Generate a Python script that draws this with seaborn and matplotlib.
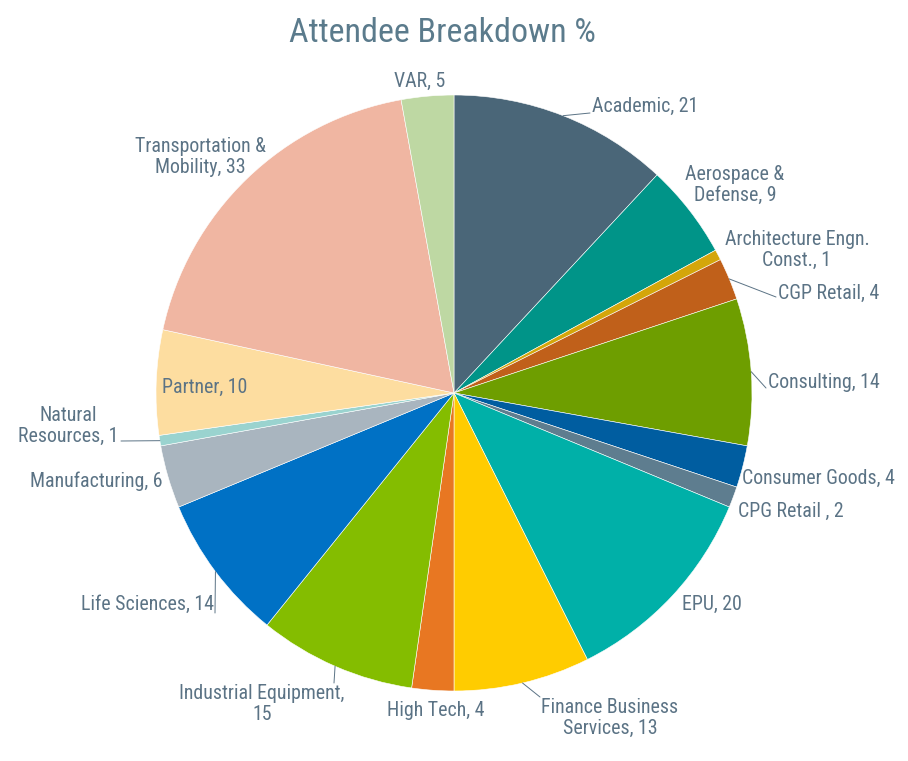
import numpy as np
import seaborn as sns
import matplotlib.pyplot as plt
from matplotlib import font_manager

# Attendee counts by industry (clockwise from 12 o'clock)
industries = ['Academic', 'Aerospace &\nDefense', 'Architecture Engn.\nConst.', 'CGP Retail',
              'Consulting', 'Consumer Goods', 'CPG Retail ', 'EPU', 'Finance Business\nServices',
              'High Tech', 'Industrial Equipment,\n', 'Life Sciences', 'Manufacturing',
              'Natural\nResources', 'Partner', 'Transportation &\nMobility', 'VAR']
attendees = [21, 9, 1, 4, 14, 4, 2, 20, 13, 4, 15, 14, 6, 1, 10, 33, 5]
slice_colors = ['#4A6678', '#009488', '#D4A60A', '#C0601A', '#6E9E00', '#005DA0', '#5E7D8F',
                '#00B0A8', '#FFCC00', '#E87722', '#84BD00', '#0071C5', '#A9B5BF', '#9AD3CF',
                '#FDDDA0', '#F0B6A2', '#BED8A3']

sns.set_theme(style='white')
installed = {f.name for f in font_manager.fontManager.ttflist}
family = [f for f in ['Liberation Sans Narrow', 'Roboto Condensed', 'Liberation Sans', 'DejaVu Sans'] if f in installed]
plt.rcParams['font.family'] = family

text_col = '#5B7385'
W, H = 908, 761
cx, cy, R = 454, H - 393, 298

fig = plt.figure(figsize=(W / 100, H / 100), dpi=100)
ax = fig.add_axes([0, 0, 1, 1])

palette = sns.color_palette(slice_colors)
wedges, _ = ax.pie(attendees, colors=palette, startangle=90, counterclock=False,
                   center=(cx, cy), radius=R, frame=True,
                   wedgeprops={'edgecolor': 'white', 'linewidth': 0.4})
ax.set_xlim(0, W)
ax.set_ylim(0, H)
ax.set_aspect('equal')
ax.axis('off')

# label layout: (x, y from top, ha, leader end point or None)
layout = [
    (592, 106, 'left', (590, 113)),
    (735, 185, 'center', None),
    (797, 250, 'center', None),
    (778, 293, 'left', (776, 297)),
    (768, 382, 'left', (766, 388)),
    (742, 478, 'left', None),
    (738, 511, 'left', None),
    (682, 604, 'left', None),
    (610, 718, 'center', (540, 697)),
    (436, 711, 'center', None),
    (262, 704, 'center', (334, 683)),
    (214, 604, 'right', (215, 613)),
    (163, 481, 'right', None),
    (68, 426, 'center', (121, 441)),
    (162, 387, 'left', None),
    (200, 157, 'center', None),
    (420, 81, 'center', None),
]

for w, name, val, (lx, ly, ha, lead) in zip(wedges, industries, attendees, layout):
    if name.endswith('\n'):
        label = f'{name}{val}'
    else:
        label = f'{name}, {val}'
    ax.text(lx, H - ly, label, ha=ha, va='center', fontsize=14.3, color=text_col,
            linespacing=1.15)
    if lead is not None:
        mid = np.deg2rad((w.theta1 + w.theta2) / 2)
        ex, ey = cx + R * np.cos(mid), cy + R * np.sin(mid)
        ax.plot([ex, lead[0]], [ey, H - lead[1]], color=text_col, lw=0.7)

ax.text(442, H - 33, 'Attendee Breakdown %', ha='center', va='center', fontsize=24.5, color='#5B7B8C')

fig.savefig('out.png', dpi=100)
